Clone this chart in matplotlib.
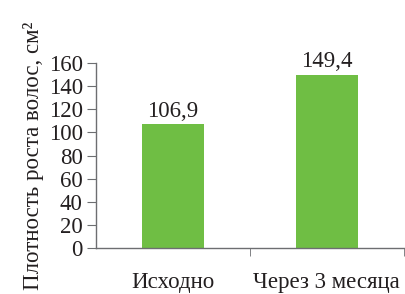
import matplotlib
matplotlib.use("Agg")
import matplotlib.pyplot as plt

categories = ["Исходно", "Через 3 месяца"]
values = [106.9, 149.4]
value_labels = ["106,9", "149,4"]
yticks = [0, 20, 40, 60, 80, 100, 120, 140, 160]

plt.rcParams["font.family"] = ["Liberation Serif", "DejaVu Serif"]
fs = 16.5
txt = "#231f20"
axc = "#6d6e71"

fig = plt.figure(figsize=(4.05, 2.94), dpi=100)
ax = fig.add_axes([0.237, 0.156, 0.76, 0.63])

x = range(len(categories))
bars = ax.bar(x, values, width=0.4, color="#6fbe44", zorder=2)
for b, lab in zip(bars, value_labels):
    ax.annotate(lab, (b.get_x() + b.get_width() / 2, b.get_height()),
                xytext=(0, 2), textcoords="offset points",
                ha="center", va="bottom", fontsize=fs, color=txt)

ax.set_xlim(-0.5, 1.5)
ax.set_ylim(0, 160)
ax.set_yticks(yticks)
ax.set_yticklabels([str(t) for t in yticks], fontsize=fs, color=txt)
ax.set_xticks([0, 1])
ax.set_xticklabels(categories, fontsize=fs, color=txt)
ax.set_xticks([0.5, 1.5], minor=True)
ax.tick_params(axis="x", which="major", length=0, pad=17)
ax.tick_params(axis="x", which="minor", length=6, color=axc)
ax.tick_params(axis="y", length=6.5, color=axc, pad=3)

for s in ["top", "right"]:
    ax.spines[s].set_visible(False)
for s in ["left", "bottom"]:
    ax.spines[s].set_color(axc)
    ax.spines[s].set_linewidth(1.0)

ax.set_ylabel("Плотность роста волос, см²", fontsize=fs, color=txt, labelpad=3)

fig.savefig("out.png", dpi=100)
